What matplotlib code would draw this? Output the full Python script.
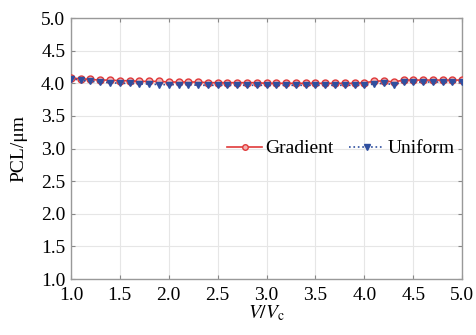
import numpy as np
import matplotlib
matplotlib.use("Agg")
import matplotlib.pyplot as plt

plt.rcParams['font.family'] = ['Liberation Serif', 'DejaVu Serif']
plt.rcParams['mathtext.fontset'] = 'stix'

# V/Vc from 1.0 to 5.0, step 0.1
v_ratio = [1.0, 1.1, 1.2, 1.3, 1.4, 1.5, 1.6, 1.7, 1.8, 1.9,
           2.0, 2.1, 2.2, 2.3, 2.4, 2.5, 2.6, 2.7, 2.8, 2.9,
           3.0, 3.1, 3.2, 3.3, 3.4, 3.5, 3.6, 3.7, 3.8, 3.9,
           4.0, 4.1, 4.2, 4.3, 4.4, 4.5, 4.6, 4.7, 4.8, 4.9, 5.0]

pcl_gradient = [4.08, 4.07, 4.06, 4.05, 4.05, 4.04, 4.04, 4.03, 4.03, 4.03,
                4.02, 4.02, 4.02, 4.02, 4.01, 4.01, 4.01, 4.01, 4.01, 4.01,
                4.00, 4.00, 4.00, 4.00, 4.00, 4.00, 4.00, 4.00, 4.00, 4.00,
                4.01, 4.03, 4.04, 4.02, 4.05, 4.05, 4.05, 4.05, 4.05, 4.05, 4.05]

pcl_uniform = [4.07, 4.05, 4.03, 4.02, 4.01, 4.00, 4.00, 3.99, 3.99, 3.98,
               3.98, 3.98, 3.98, 3.97, 3.97, 3.97, 3.97, 3.97, 3.97, 3.97,
               3.97, 3.97, 3.97, 3.97, 3.97, 3.97, 3.97, 3.97, 3.97, 3.97,
               3.97, 3.99, 4.00, 3.98, 4.02, 4.02, 4.02, 4.02, 4.02, 4.02, 4.02]

x_ticks = [1.0, 1.5, 2.0, 2.5, 3.0, 3.5, 4.0, 4.5, 5.0]
y_ticks = [1.0, 1.5, 2.0, 2.5, 3.0, 3.5, 4.0, 4.5, 5.0]

fig = plt.figure(figsize=(4.76, 3.35), dpi=100)
ax = fig.add_axes([0.149, 0.167, 0.822, 0.779])

ax.plot(v_ratio, pcl_gradient, '-o', color='#e03a3a', lw=1.2, ms=5,
        mfc='#f3b0b0', mec='#e03a3a', mew=1.0, label='Gradient', zorder=3)
ax.plot(v_ratio, pcl_uniform, ':v', color='#2f4f9f', lw=1.2, ms=5,
        mfc='#2f4f9f', mec='#2f4f9f', label='Uniform', zorder=4)

ax.set_xlim(1.0, 5.0)
ax.set_ylim(1.0, 5.0)
ax.set_xticks(x_ticks)
ax.set_yticks(y_ticks)
ax.set_xticklabels(['%.1f' % t for t in x_ticks])
ax.set_yticklabels(['%.1f' % t for t in y_ticks])
ax.tick_params(direction='in', top=True, right=True, length=3,
               color='#888888', labelsize=14, pad=4)
ax.tick_params(axis='x', pad=6)
ax.grid(True, color='#e6e6e6', lw=0.8)
ax.set_axisbelow(True)
for sp in ax.spines.values():
    sp.set_color('#999999')
    sp.set_linewidth(1.0)

ax.set_xlabel(r'$V/V_{\mathrm{c}}$', fontsize=14, labelpad=-1)
ax.set_ylabel('PCL/μm', fontsize=14, labelpad=10)

ax.legend(loc='center', bbox_to_anchor=(0.69, 0.5), ncol=2, frameon=False,
          fontsize=14, handlelength=1.8, handletextpad=0.15, columnspacing=0.8,
          markerscale=0.8)

fig.savefig('out.png', dpi=100)
